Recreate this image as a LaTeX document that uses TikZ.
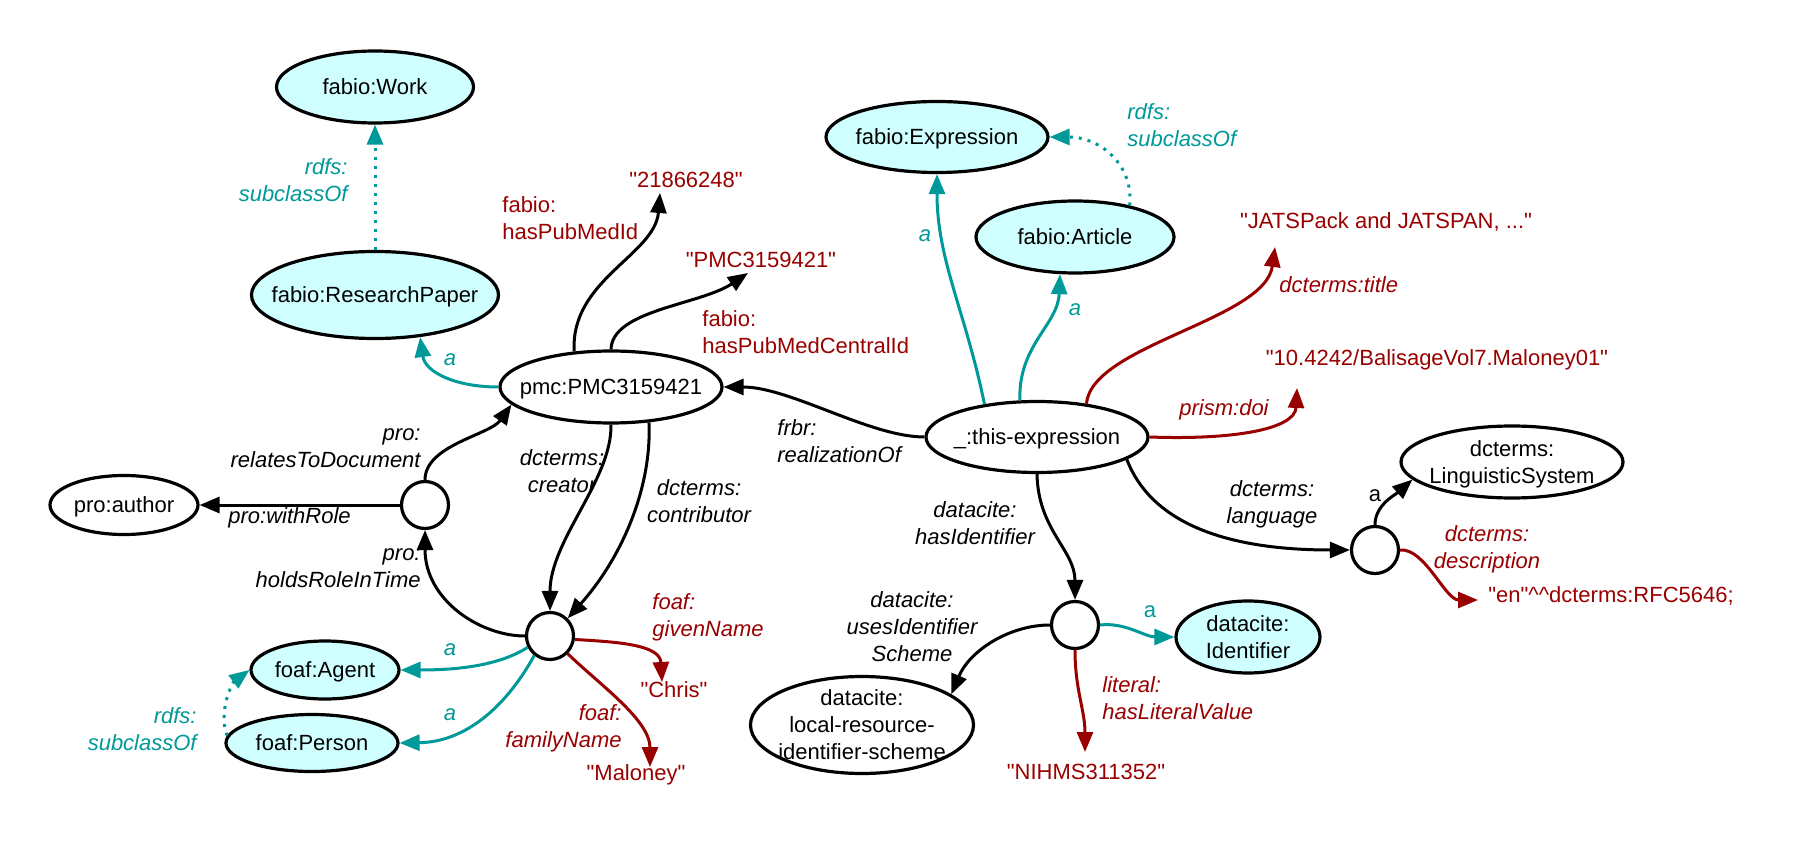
\documentclass[tikz,border=0pt]{standalone}
\usepackage{fontspec}
\setmainfont{Liberation Sans}
\newfontfamily\plainq{Liberation Sans}
\usetikzlibrary{arrows.meta,shapes.geometric,calc}
\definecolor{tealc}{RGB}{0,153,153}
\definecolor{litred}{RGB}{153,0,0}
\definecolor{clsfill}{RGB}{208,255,255}
\newcommand\fs{\fontsize{11}{13.5}\selectfont}
\newcommand\zt[1]{\makebox[0pt]{\raisebox{-4pt}[0pt][0pt]{\begin{tabular}{@{}c@{}}#1\end{tabular}}}}
\tikzset{
  res/.style={ellipse, draw=black, line width=1.6pt, inner sep=0pt, fill=white, font=\fs},
  cls/.style={res, fill=clsfill},
  blank/.style={circle, draw=black, line width=1.6pt, inner sep=0pt, minimum size=23.5pt, fill=white},
  lit/.style={text=litred, inner sep=1pt, font=\fs\plainq},
  txt/.style={inner sep=1pt, font=\fs\itshape, align=center},
  elbl/.style={txt, text=black},
  tlbl/.style={txt, text=tealc},
  rlbl/.style={txt, text=litred},
  arrtip/.style={-{Triangle[length=10pt,width=8pt]}},
  blk/.style={draw=black, line width=1.5pt, arrtip},
  tl/.style={draw=tealc, line width=1.5pt, arrtip},
  rd/.style={draw=litred, line width=1.5pt, arrtip},
  tdot/.style={tl, dash pattern=on 1.5pt off 3pt},
}
\begin{document}
\begin{tikzpicture}[x=0.5pt,y=-0.5pt]
\fill[white] (0,0) rectangle (1800,850);
\useasboundingbox (0,0) rectangle (1800,850);

% resources and classes
\node[cls, minimum width=98.5pt, minimum height=36pt] (work) at (375,87) {\zt{fabio:Work}};
\node[cls, minimum width=123.5pt, minimum height=43.5pt] (rpaper) at (375,295) {\zt{fabio:ResearchPaper}};
\node[cls, minimum width=111pt, minimum height=35.5pt] (expr) at (937,137) {\zt{fabio:Expression}};
\node[cls, minimum width=99pt, minimum height=36pt] (article) at (1075,237) {\zt{fabio:Article}};
\node[res, minimum width=111pt, minimum height=36pt] (pmc) at (611,387) {\zt{pmc:PMC3159421}};
\node[res, minimum width=111pt, minimum height=35.5pt] (thisexp) at (1037,437) {\zt{\_:this-expression}};
\node[res, minimum width=74pt, minimum height=29.5pt] (author) at (124,505) {\zt{pro:author}};
\node[cls, minimum width=74pt, minimum height=29pt] (agent) at (325,670) {\zt{foaf:Agent}};
\node[cls, minimum width=86pt, minimum height=28.5pt] (person) at (312,743) {\zt{foaf:Person}};
\node[res, minimum width=111pt, minimum height=36pt] (lingsys) at (1512,462) {\zt{dcterms:\\LinguisticSystem}};
\node[cls, minimum width=72pt, minimum height=36pt] (identifier) at (1248,637) {\zt{datacite:\\Identifier}};
\node[res, minimum width=111.5pt, minimum height=48.5pt] (localres) at (862,725) {\zt{datacite:\\local-resource-\\identifier-scheme}};

% blank nodes
\node[blank] (c1) at (425,505) {};
\node[blank] (c2) at (550,636) {};
\node[blank] (c3) at (1075,625) {};
\node[blank] (c4) at (1375,550) {};

% literals
\node[lit] (lit1) at (686,180) {"21866248"};
\node[lit] (lit2) at (761,260) {"PMC3159421"};
\node[lit] (lit3) at (1386,222) {"JATSPack and JATSPAN, ..."};
\node[lit] (lit4) at (1437,360) {"10.4242/BalisageVol7.Maloney01"};
\node[lit, anchor=west] (lit5) at (1486,596) {"en"\textasciicircum\textasciicircum dcterms:RFC5646;};
\node[lit] (lit6) at (674,690) {"Chris"};
\node[lit] (lit7) at (636,775) {"Maloney"};
\node[lit] (lit8) at (1086,772) {"NIHMS311352"};

% edge labels
\node[tlbl, anchor=east, align=right] (lsub1) at (350,180) {rdfs:\\subclassOf};
\node[tlbl] (la1) at (450,360) {a};
\node[lit, anchor=west, align=left] (lpubmed) at (500,218) {fabio:\\hasPubMedId};
\node[lit, anchor=west, align=left] (lpmcid) at (700,332) {fabio:\\hasPubMedCentralId};
\node[elbl, anchor=west, align=left] (lfrbr) at (775,441) {frbr:\\realizationOf};
\node[elbl, anchor=east, align=right] (lrel) at (423,448) {pro:\\relatesToDocument};
\node[elbl, anchor=west] (lrole) at (226,518) {pro:withRole};
\node[elbl, anchor=east, align=right] (lhold) at (423,568) {pro:\\holdsRoleInTime};
\node[elbl] (lcreator) at (562,471) {dcterms:\\creator};
\node[elbl] (lcontrib) at (699,501) {dcterms:\\contributor};
\node[rlbl, anchor=west, align=left] (lgiven) at (650,617) {foaf:\\givenName};
\node[rlbl, anchor=east, align=right] (lfamily) at (624,728) {foaf:\\familyName};
\node[tlbl] (la2) at (450,650) {a};
\node[tlbl] (la3) at (450,715) {a};
\node[tlbl, anchor=east, align=right] (lsub2) at (199,729) {rdfs:\\subclassOf};
\node[tlbl] (la4) at (925,236) {a};
\node[tlbl] (la5) at (1075,310) {a};
\node[tlbl, anchor=west, align=left] (lsub3) at (1125,125) {rdfs:\\subclassOf};
\node[rlbl, anchor=west] (ltitle) at (1277,285) {dcterms:title};
\node[rlbl] (ldoi) at (1224,410) {prism:doi};
\node[elbl] (lhasid) at (975,523) {datacite:\\hasIdentifier};
\node[elbl] (llang) at (1272,504) {dcterms:\\language};
\node[inner sep=1pt, font=\fs] (la6) at (1375,496) {a};
\node[rlbl] (ldesc) at (1487,549) {dcterms:\\description};
\node[inner sep=1pt, font=\fs, text=tealc] (la7) at (1150,612) {a};
\node[elbl] (luses) at (912,627) {datacite:\\usesIdentifier\\Scheme};
\node[rlbl, anchor=west, align=left] (llit) at (1100,698) {literal:\\hasLiteralValue};

% connectors
\draw[tdot] (rpaper.north) -- (work.south);
\draw[tl] (pmc.west) .. controls (455,387) and (425,372) .. (rpaper.-43);
\draw[blk] (pmc.136) .. controls (570,280) and (655,255) .. ($(lit1.center)+(-26,13)$);
\draw[blk] (pmc.north) .. controls (612,310) and (700,305) .. ($(lit2.center)+(-13,13)$);
\draw[blk] (thisexp.west) .. controls (870,437) and (790,387) .. (pmc.east);
\draw[blk] (c1.north) .. controls (425,445) and (490,435) .. (pmc.190);
\draw[blk] (c1.west) -- (author.east);
\draw[blk] (c2.west) .. controls (480,636) and (425,600) .. (c1.south);
\draw[blk] (pmc.south) .. controls (612,480) and (550,540) .. (c2.north);
\draw[blk] (pmc.-43) .. controls (652,490) and (620,560) .. (c2.45);
\draw[tl] (thisexp.148) .. controls (965,310) and (937,260) .. (expr.south);
\draw[tl] (thisexp.115) .. controls (1018,345) and (1058,325) .. (article.248);
\draw[tdot] (article.30) .. controls (1134,165) and (1100,137) .. (expr.east);
\draw[rd] (thisexp.34) .. controls (1092,345) and (1265,320) .. ($(lit3.center)+(-111,25)$);
\draw[rd] (thisexp.east) .. controls (1230,440) and (1295,430) .. ($(lit4.center)+(-140,28)$);
\draw[blk] (thisexp.south) .. controls (1038,530) and (1075,550) .. (c3.north);
\draw[blk] (thisexp.-14) .. controls (1150,520) and (1220,550) .. (c4.west);
\draw[blk] (c4.north) .. controls (1375,505) and (1395,495) .. (lingsys.190);
\draw[rd] (c4.east) .. controls (1425,548) and (1445,600) .. ($(lit5.west)+(-8,4)$);
\draw[tl] (c3.east) .. controls (1125,622) and (1145,637) .. (identifier.west);
\draw[blk] (c3.west) .. controls (1010,625) and (970,650) .. (localres.19);
\draw[rd] (c3.south) .. controls (1075,690) and (1085,710) .. ($(lit8.center)+(-1,-20)$);
\draw[rd] (c2.-8) .. controls (620,642) and (660,645) .. ($(lit6.center)+(-12,-8)$);
\draw[rd] (c2.-45) .. controls (600,685) and (650,720) .. ($(lit7.center)+(14,-8)$);
\draw[tl] (c2.207) .. controls (500,665) and (460,670) .. (agent.east);
\draw[tl] (c2.231) .. controls (510,700) and (470,742) .. (person.east);
\draw[tdot] (person.175) .. controls (218,712) and (232,683) .. (agent.west);
\end{tikzpicture}
\end{document}
